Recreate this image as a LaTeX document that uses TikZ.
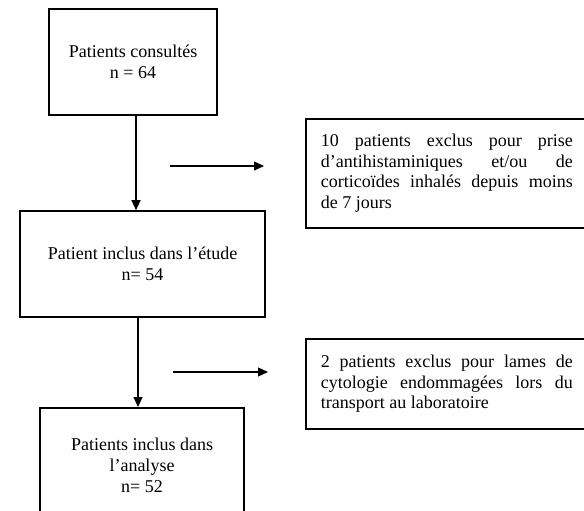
\documentclass[tikz,border=0pt]{standalone}
\usepackage{fontspec}
\setmainfont{Liberation Serif}
\usetikzlibrary{arrows.meta}

\begin{document}
\begin{tikzpicture}[x=1pt,y=-1pt,
  stagebox/.style={draw,line width=1.6pt,align=center,inner sep=0pt,
    font=\fontsize{18}{21}\selectfont},
  exclbox/.style={draw,line width=1.6pt,anchor=north west,text width=252pt,
    inner xsep=15pt,inner ysep=0pt,align=justify,
    font=\fontsize{18}{20.5}\selectfont},
  arr/.style={line width=1.2pt,-{Triangle[length=10pt,width=9pt]}}]
\useasboundingbox (0,0) rectangle (584,511);
\clip (0,0) rectangle (584,511);

\node[stagebox,minimum width=168pt,minimum height=106pt] (consult) at (133,62)
  {Patients consultés\\n = 64};
\node[stagebox,minimum width=245pt,minimum height=106pt] (inclus) at (142.5,264)
  {Patient inclus dans l’étude\\n= 54};
\node[stagebox,anchor=north,minimum width=204pt,minimum height=115pt] (analyse) at (142,407)
  {Patients inclus dans\\l’analyse\\n= 52};

\node[exclbox,minimum height=109pt] (excl1) at (305,118)
  {10 patients exclus pour prise\linebreak d’antihistaminiques et/ou de\linebreak corticoïdes inhalés depuis moins\linebreak de 7 jours};
\node[exclbox,minimum height=90pt] (excl2) at (305,338)
  {2 patients exclus pour lames de\linebreak cytologie endommagées lors du\linebreak transport au laboratoire};

\draw[arr] ([xshift=3pt]consult.south) -- ([xshift=3pt]consult.south |- inclus.north);
\draw[arr] ([xshift=-4.5pt]inclus.south) -- ([xshift=-4.5pt]inclus.south |- analyse.north);

\coordinate (e1a) at (170,166);
\coordinate (e1b) at (264,166);
\coordinate (e2a) at (173,372);
\coordinate (e2b) at (268,372);
\draw[arr] (e1a) -- (e1b);
\draw[arr] (e2a) -- (e2b);

\end{tikzpicture}
\end{document}
